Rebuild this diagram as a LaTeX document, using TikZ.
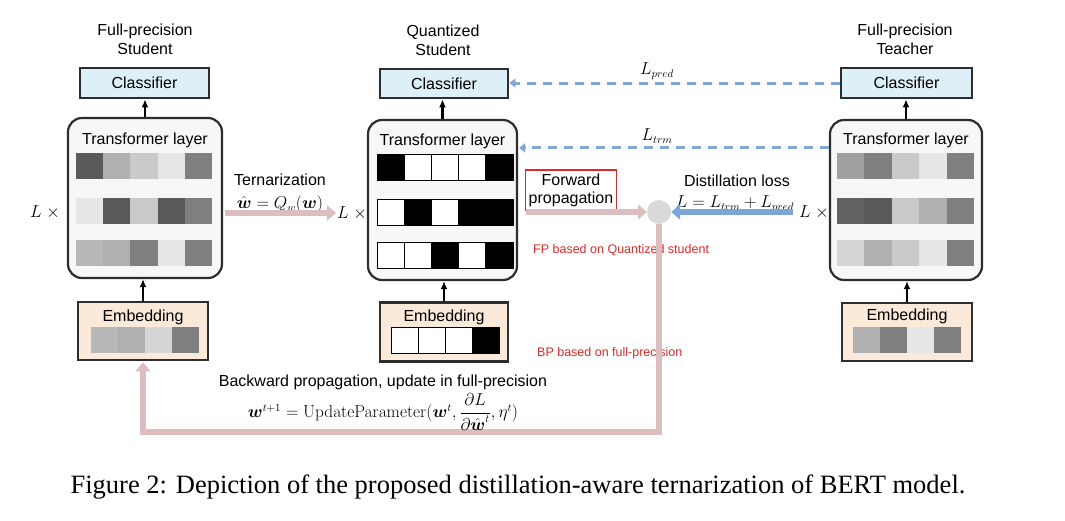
\documentclass[tikz,border=0pt]{standalone}
\usepackage{amsmath}
\usepackage[no-math]{fontspec}
\setmainfont{Liberation Sans}
\newfontfamily\capfont{Liberation Serif}
\usetikzlibrary{arrows.meta,calc}
\definecolor{bordc}{RGB}{45,45,45}
\definecolor{clsfill}{RGB}{222,240,247}
\definecolor{embfill}{RGB}{251,233,217}
\definecolor{trfill}{RGB}{247,247,247}
\definecolor{pinkc}{RGB}{220,190,193}
\definecolor{bluec}{RGB}{122,166,216}
\definecolor{dashc}{RGB}{130,166,212}
\definecolor{redc}{RGB}{226,40,40}
\definecolor{circc}{RGB}{217,217,217}
\newcommand\cellrow[5]{%
  \foreach \g [count=\i from 0] in {#5} {
    \fill[fill={rgb,255:red,\g;green,\g;blue,\g}] ({#1+\i*#3},#2) rectangle ++(#3,#4);
  }}
\newcommand\bwrow[5]{%
  \foreach \g [count=\i from 0] in {#5} {
    \draw[line width=1pt,draw=black,fill={rgb,255:red,\g;green,\g;blue,\g}] ({#1+\i*#3},#2) rectangle ++(#3,#4);
  }}
\tikzset{
  txt/.style={font=\fontsize{16}{19}\selectfont, inner sep=0pt},
  clsbox/.style={draw=bordc, line width=2.8pt, fill=clsfill, inner sep=0pt},
  embbox/.style={draw=bordc, line width=2.8pt, fill=embfill, inner sep=0pt},
  trbox/.style={draw=bordc, line width=2.2pt, fill=trfill, rounded corners=14pt, inner sep=0pt},
  blk/.style={line width=2.2pt, draw=black, -{Latex[length=8pt,width=7pt]}},
  pinkarrow/.style={line width=6pt, draw=pinkc, -{Triangle[length=9pt,width=15pt]}},
  bluearrow/.style={line width=6pt, draw=bluec, -{Triangle[length=9pt,width=15pt]}},
  dasharrow/.style={line width=3pt, draw=dashc, dash pattern=on 9pt off 7pt, -{Triangle[length=6pt,width=9pt]}},
  redtxt/.style={font=\fontsize{12.5}{14}\selectfont, text=redc, inner sep=0pt, anchor=west},
}
\begin{document}
\begin{tikzpicture}[x=1pt,y=-1pt]
\useasboundingbox[fill=white] (0,0) rectangle (1065,520);

% titles
\node[txt, align=center] (lt) at (145,39) {Full-precision\\Student};
\node[txt, align=center] (mt) at (443,40) {Quantized\\Student};
\node[txt, align=center] (rt) at (905,39) {Full-precision\\Teacher};

% left column
\node[clsbox, minimum width=129pt, minimum height=30pt] (lcl) at (144.5,83) {};
\node[txt] (lclt) at (lcl) {Classifier};
\node[trbox, minimum width=154pt, minimum height=160pt] (ltr) at (145,198) {};
\node[txt] (ltrt) at (145,140) {Transformer layer};
\cellrow{76}{153}{27.2}{26}{90,176,202,230,127}
\cellrow{76}{198}{27.2}{26}{230,90,202,90,127}
\cellrow{76}{240}{27.2}{26}{184,176,127,230,127}
\node[embbox, minimum width=130pt, minimum height=58pt] (lemb) at (143,331) {};
\node[txt] (lembt) at (143,317) {Embedding};
\cellrow{91}{327}{27}{26}{184,176,214,127}

% middle column
\node[clsbox, minimum width=128pt, minimum height=29pt] (mcl) at (444,83.5) {};
\node[txt] (mclt) at (mcl) {Classifier};
\node[trbox, minimum width=149pt, minimum height=160pt] (mtr) at (442.5,200) {};
\node[txt] (mtrt) at (442.5,141) {Transformer layer};
\bwrow{377}{154}{27.2}{26}{0,255,255,255,0}
\bwrow{377}{199}{27.2}{26}{255,0,255,0,0}
\bwrow{377}{242}{27.2}{26}{255,255,0,255,0}
\node[embbox, minimum width=128pt, minimum height=59pt] (memb) at (444,332) {};
\node[txt] (membt) at (444,317) {Embedding};
\bwrow{391}{327}{27}{26}{255,255,255,0}

% right column
\node[clsbox, minimum width=131pt, minimum height=30pt] (rcl) at (906.5,83) {};
\node[txt] (rclt) at (rcl) {Classifier};
\node[trbox, minimum width=152pt, minimum height=160pt] (rtr) at (906,200) {};
\node[txt] (rtrt) at (906,140) {Transformer layer};
\cellrow{837}{153}{27.4}{26}{160,127,202,230,127}
\cellrow{837}{198}{27.4}{26}{98,90,202,176,127}
\cellrow{837}{240}{27.4}{26}{214,176,202,230,127}
\node[embbox, minimum width=130pt, minimum height=58pt] (remb) at (907,332) {};
\node[txt] (rembt) at (907,316) {Embedding};
\cellrow{853}{327}{27}{26}{176,127,230,127}

% vertical black arrows
\draw[blk] (lemb.north) -- (lemb.north |- ltr.south);
\draw[blk] (ltr.north) -- (ltr.north |- lcl.south);
\draw[blk] (memb.north) -- (memb.north |- mtr.south);
\draw[blk] (mtr.north) -- (mtr.north |- mcl.south);
\draw[blk] (remb.north) -- (remb.north |- rtr.south);
\draw[blk] (rtr.north) -- (rtr.north |- rcl.south);

% L x labels
\node[txt] (llx) at (45,212) {$L\;\times$};
\node[txt] (mlx) at (352,213) {$L\;\times$};
\node[txt] (rlx) at (814,212) {$L\;\times$};

% ternarization
\node[txt] (tern) at (280,180) {Ternarization};
\node[txt] (ternf) at (280,204.5) {$\hat{\boldsymbol{w}} = Q_w(\boldsymbol{w})$};
\draw[pinkarrow, shorten <=2pt] (ltr.east |- mlx) -- ([xshift=-1pt]mlx.west);

% forward propagation
\node[draw=redc, line width=1.8pt, minimum width=91pt, minimum height=40pt, inner sep=0pt] (fwd) at (571,190) {};
\node[txt, align=center, font=\fontsize{16}{18}\selectfont] (fwdt) at (fwd) {Forward\\propagation};
\node[circle, fill=circc, minimum size=24pt, inner sep=0pt] (circ) at (659,212) {};
\draw[pinkarrow, shorten <=8pt] (mtr.east |- circ) -- (circ.west);

% distillation loss
\node[txt] (dist) at (737,181) {Distillation loss};
\node[txt] (distf) at (735,204) {$L = L_{trm} + L_{pred}$};
\draw[bluearrow, shorten <=6pt] (rlx.west |- circ) -- (circ.east);

% dashed losses
\node[txt] (lpred) at (657,71) {$L_{pred}$};
\node[txt] (ltrm) at (657,136) {$L_{trm}$};
\coordinate (trmy) at ($(rtr.north west)+(0,29)$);
\draw[dasharrow] (rcl.west) -- (rcl.west -| mcl.east);
\draw[dasharrow, shorten >=1pt] (trmy) -- (trmy -| mtr.east);

% red notes
\node[redtxt] (fpnote) at (533,250) {FP based on Quantized student};
\node[redtxt] (bpnote) at (537,353) {BP based on full-precision};

% backward path
\coordinate (bot) at (145,432);
\draw[pinkarrow, line join=miter] (circ.south) |- (lemb.south |- bot) -- ([yshift=-1pt]lemb.south);

\node[txt] (bwd) at (383,382) {Backward propagation, update in full-precision};
\node[txt, font=\fontsize{16}{18}\selectfont] (bwdf) at (383,412) {$\boldsymbol{w}^{t+1} = \mathrm{UpdateParameter}(\boldsymbol{w}^t, \dfrac{\partial L}{\partial \hat{\boldsymbol{w}}^t}, \eta^t)$};

% caption
\node[inner sep=0pt, font=\capfont\fontsize{26.5}{30}\selectfont] (cap) at (518,487) {Figure 2: Depiction of the proposed distillation-aware ternarization of BERT model.};
\end{tikzpicture}
\end{document}
